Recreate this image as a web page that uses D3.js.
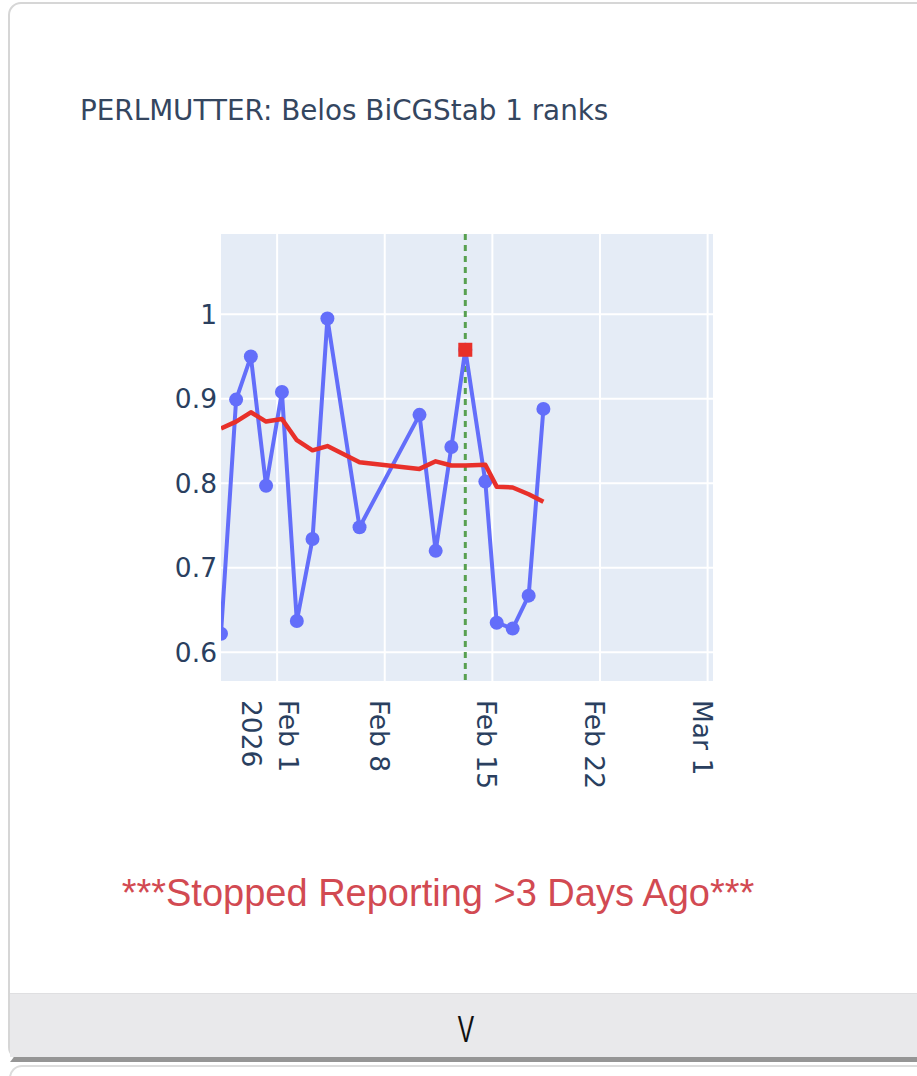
<!DOCTYPE html>
<html>
<head>
<meta charset="utf-8">
<script src="https://cdn.jsdelivr.net/npm/d3@7"></script>
<style>
  body { margin: 0; background: #fff; }
  svg { display: block; }
</style>
</head>
<body>
<script>
const width = 917
const height = 1076

// run dates (UTC) and timings
const dates = ['2026-01-28T08:24', '2026-01-29T08:00', '2026-01-30T07:00', '2026-01-31T06:45',
    '2026-02-01T07:30', '2026-02-02T06:45', '2026-02-03T07:15', '2026-02-04T06:30',
    '2026-02-06T08:40', '2026-02-10T06:15', '2026-02-11T07:30', '2026-02-12T08:00',
    '2026-02-13T05:45', '2026-02-14T13:00', '2026-02-15T06:45', '2026-02-16T07:40',
    '2026-02-17T08:40', '2026-02-18T07:40']
const values = [0.622, 0.899, 0.950, 0.797, 0.908, 0.637, 0.734, 0.995, 0.748,
    0.881, 0.720, 0.843, 0.958, 0.802, 0.635, 0.628, 0.667, 0.888]
const rolling = [0.865, 0.873, 0.884, 0.873, 0.876, 0.851, 0.839, 0.844, 0.825,
    0.817, 0.826, 0.821, 0.821, 0.822, 0.796, 0.795, 0.787, 0.778]
const markDate = '2026-02-13T05:45'
const markValue = 0.958
const yTicks = [0.6, 0.7, 0.8, 0.9, 1]
const xTicks = ['2026-02-01', '2026-02-08', '2026-02-15', '2026-02-22', '2026-03-01']
const xTickLabels = [['Feb 1', '2026'], ['Feb 8'], ['Feb 15'], ['Feb 22'], ['Mar 1']]

const title = 'PERLMUTTER: Belos BiCGStab 1 ranks'
const warning = '***Stopped Reporting >3 Days Ago***'

const parse = s => new Date(s + 'Z')

const plot = {left: 221, right: 713, top: 234, bottom: 681}

let first = parse(dates[0])
let x = d3.scaleUtc()
    .domain([first, d3.utcDay.offset(first, 32)])
    .range([plot.left, plot.right])
let y = d3.scaleLinear()
    .domain([0.566, 1.095])
    .range([plot.bottom, plot.top])

var svg = d3.select('body').append('svg')
    .attr('width', width)
    .attr('height', height)

// card frame
svg.append('rect')
    .attr('x', 9).attr('y', 3)
    .attr('width', 940).attr('height', 1056)
    .attr('rx', 12)
    .style('fill', '#fff')
    .style('stroke', '#d6d6d6')
    .style('stroke-width', 2)

svg.append('rect')
    .attr('x', 10).attr('y', 993)
    .attr('width', 920).attr('height', 64)
    .style('fill', '#e9e9eb')
svg.append('line')
    .attr('x1', 10).attr('x2', 917).attr('y1', 993.5).attr('y2', 993.5)
    .style('stroke', '#dfdfe1')
svg.append('path')
    .attr('d', 'M14,1057 L917,1057 L917,1062 L10,1062 Z')
    .style('fill', '#959595')
svg.append('rect')
    .attr('x', 10).attr('y', 1066)
    .attr('width', 940).attr('height', 40)
    .attr('rx', 12)
    .style('fill', '#fff')
    .style('stroke', '#dcdcdc')
    .style('stroke-width', 2)

svg.append('text')
    .attr('transform', 'translate(466,1042) scale(0.68,1)')
    .attr('text-anchor', 'middle')
    .style('font-family', 'Liberation Sans, Arial, sans-serif')
    .style('font-size', '36px')
    .style('fill', '#111')
    .text('V')

// title
svg.append('text')
    .attr('x', 80).attr('y', 120)
    .style('font-family', 'DejaVu Sans, Verdana, sans-serif')
    .style('font-size', '27.8px')
    .style('fill', '#34465f')
    .text(title)

// plot background and grid
svg.append('rect')
    .attr('x', plot.left).attr('y', plot.top)
    .attr('width', plot.right - plot.left).attr('height', plot.bottom - plot.top)
    .style('fill', '#e5ecf6')

svg.append('g').selectAll('line')
    .data(yTicks)
    .join('line')
    .attr('x1', plot.left).attr('x2', plot.right)
    .attr('y1', d => y(d)).attr('y2', d => y(d))
    .style('stroke', '#fff')
    .style('stroke-width', 2)

svg.append('g').selectAll('line')
    .data(xTicks)
    .join('line')
    .attr('x1', d => x(parse(d))).attr('x2', d => x(parse(d)))
    .attr('y1', plot.top).attr('y2', plot.bottom)
    .style('stroke', '#fff')
    .style('stroke-width', 2)

// y tick labels
svg.append('g').selectAll('text')
    .data(yTicks)
    .join('text')
    .attr('x', 217)
    .attr('y', d => y(d))
    .attr('dy', '0.36em')
    .attr('text-anchor', 'end')
    .style('font-family', 'DejaVu Sans, Verdana, sans-serif')
    .style('font-size', '26.5px')
    .style('fill', '#2a3f5f')
    .text(d => d3.format('~g')(d))

// x tick labels, rotated
let xl = svg.append('g').selectAll('g')
    .data(xTicks)
    .join('g')
    .attr('transform', d => `translate(${x(parse(d))},700) rotate(90)`)
xl.each(function(d, i) {
    let lines = xTickLabels[i]
    let off = lines.length > 1 ? -1.5 : 15
    d3.select(this).selectAll('text')
        .data(lines)
        .join('text')
        .attr('x', 0)
        .attr('y', (t, j) => off + j * 37)
        .style('font-family', 'DejaVu Sans, Verdana, sans-serif')
        .style('font-size', '26.5px')
        .style('fill', '#2a3f5f')
        .text(t => t)
})

// clip for traces
svg.append('clipPath').attr('id', 'clip')
    .append('rect')
    .attr('x', plot.left).attr('y', plot.top)
    .attr('width', plot.right - plot.left).attr('height', plot.bottom - plot.top)

let g = svg.append('g').attr('clip-path', 'url(#clip)')

// marker date line
g.append('line')
    .attr('x1', x(parse(markDate))).attr('x2', x(parse(markDate)))
    .attr('y1', plot.top).attr('y2', plot.bottom)
    .style('stroke', '#58a050')
    .style('stroke-width', 3)
    .style('stroke-dasharray', '6,5')

let pts = dates.map((d, i) => [parse(d), values[i]])
let avg = dates.map((d, i) => [parse(d), rolling[i]])
let line = d3.line().x(d => x(d[0])).y(d => y(d[1]))

g.append('path')
    .attr('d', line(pts))
    .style('fill', 'none')
    .style('stroke', '#636efa')
    .style('stroke-width', 4)
    .style('stroke-linejoin', 'round')

g.selectAll('circle')
    .data(pts)
    .join('circle')
    .attr('cx', d => x(d[0]))
    .attr('cy', d => y(d[1]))
    .attr('r', 7)
    .style('fill', '#636efa')

g.append('path')
    .attr('d', line(avg))
    .style('fill', 'none')
    .style('stroke', '#e8302a')
    .style('stroke-width', 4.5)
    .style('stroke-linejoin', 'round')

g.append('rect')
    .attr('x', x(parse(markDate)) - 7)
    .attr('y', y(markValue) - 7)
    .attr('width', 14).attr('height', 14)
    .style('fill', '#e8302a')

// footer warning
svg.append('text')
    .attr('x', 438).attr('y', 906)
    .attr('text-anchor', 'middle')
    .style('font-family', 'Liberation Sans, Arial, sans-serif')
    .style('font-size', '38px')
    .style('fill', '#d24a52')
    .text(warning)
</script>
</body>
</html>
